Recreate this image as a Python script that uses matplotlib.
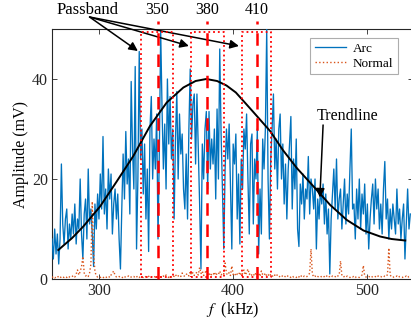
import numpy as np
import matplotlib
matplotlib.use("Agg")
import matplotlib.pyplot as plt

# ---------------- data ----------------
freq = np.arange(265, 533, 1.0)  # kHz sample grid

arc = [
    8, 4, 10, 5, 9, 3, 8, 23, 11, 7,
    12, 14, 6, 11, 8, 13, 9, 15, 7, 12,
    10, 20, 9, 4, 13, 16, 8, 22, 11, 14,
    9, 2.5, 15, 10, 17, 12, 21, 14, 28.5, 13,
    18, 10, 22, 16, 21, 9, 15, 18, 12, 17,
    8, 2, 14, 25, 16, 29.5, 19, 24, 13, 39.5,
    26, 18, 42.5, 6, 20, 45.5, 24, 30, 17, 27,
    12, 22, 5.5, 30, 36.5, 20, 28, 22, 33, 8,
    26, 49.5, 34, 22, 31, 18, 40, 27, 36.5, 24,
    30, 12, 28, 37.5, 20, 33, 25, 29, 18, 14,
    25, 12, 30, 42, 28, 35, 37, 23, 37, 26,
    15, 2, 27, 20, 30, 33.5, 18, 33.5, 22, 28,
    23, 30, 16, 34, 20, 46, 29, 18, 6, 22,
    30, 24, 31, 18, 6, 27, 23, 29, 12, 21,
    7, 24, 18, 30, 26, 33, 20, 9, 27, 29,
    11, 24, 20, 30, 5, 18, 9, 28, 22, 30,
    50, 20, 8, 24, 30, 37, 22, 28, 18, 30,
    33, 20, 27, 15, 23, 12, 22, 27, 32.5, 14,
    24, 18, 28, 10, 6.5, 19, 15, 21, 12, 18,
    16, 24.5, 13, 20, 18, 14, 20, 6, 16, 12,
    18, 15, 19, 11, 17, 9, 14, 1, 12, 17,
    22, 14, 24, 12, 16, 18, 10, 15, 20, 11,
    17, 13, 22, 30, 14, 15, 8, 18, 12, 20,
    10, 17, 13, 19, 9, 15, 6, 12, 16, 19,
    11, 20, 14, 18, 10, 15, 9, 18, 23.5, 12,
    16, 8, 14, 10, 15, 12, 9, 18, 11, 14,
    8, 12, 15, 4, 11, 18, 10, 13,
]

normal = [
    0.3, 0.5, 0.2, 0.4, 0.6, 0.3, 0.5, 0.2, 0.4, 0.3,
    0.5, 0.3, 0.6, 0.4, 0.3, 0.5, 0.7, 0.4, 1.0, 1.8,
    0.8, 1.5, 2.5, 4.5, 1.2, 0.6, 0.8, 0.5, 1.2, 3.0,
    15.5, 5.0, 1.5, 0.6, 0.4, 0.5, 0.3, 0.4, 0.2, 0.5,
    0.3, 0.4, 0.6, 0.3, 0.8, 1.2, 1.6, 0.7, 0.4, 0.3,
    0.5, 0.3, 0.4, 0.2, 0.5, 0.3, 0.4, 0.6, 0.3, 0.4,
    0.3, 0.5, 0.2, 0.4, 0.6, 0.3, 0.5, 0.4, 0.3, 0.6,
    0.4, 0.3, 0.5, 0.7, 0.4, 0.3, 0.5, 0.4, 0.6, 0.3,
    0.5, 0.4, 0.3, 0.6, 0.4, 0.8, 0.5, 0.3, 0.6, 0.4,
    0.7, 0.5, 0.9, 0.4, 0.6, 0.8, 0.5, 1.2, 0.7, 0.5,
    0.9, 1.1, 0.6, 1.5, 0.8, 1.3, 0.7, 1.0, 1.4, 0.8,
    2.3, 1.1, 1.6, 0.7, 1.2, 1.8, 0.9, 1.3, 0.6, 1.0,
    0.8, 1.4, 0.7, 1.1, 0.9, 1.6, 0.8, 1.2, 1.0, 3.2,
    1.1, 0.8, 1.3, 0.7, 2.6, 0.9, 1.2, 0.6, 1.0, 0.8,
    1.4, 0.7, 1.1, 1.8, 0.8, 1.3, 2.0, 0.9, 1.2, 0.7,
    1.0, 0.6, 1.3, 0.8, 1.1, 0.5, 1.6, 0.9, 0.7, 1.2,
    0.6, 0.9, 0.5, 1.0, 0.7, 0.4, 0.8, 0.5, 0.9, 0.6,
    0.4, 0.7, 0.5, 0.3, 0.6, 0.4, 0.7, 0.5, 0.3, 0.6,
    0.4, 0.5, 0.3, 0.6, 0.4, 0.8, 0.5, 0.3, 0.6, 0.4,
    0.5, 0.7, 1.2, 6.0, 1.0, 0.4, 0.6, 0.3, 0.5, 0.4,
    0.3, 0.6, 0.4, 0.5, 0.3, 0.7, 0.4, 0.5, 0.3, 0.6,
    0.4, 0.5, 0.3, 0.6, 0.8, 3.6, 0.7, 0.4, 0.5, 0.3,
    0.6, 0.4, 0.3, 0.5, 0.4, 0.6, 0.3, 0.5, 0.4, 0.3,
    0.5, 0.8, 2.7, 0.6, 0.4, 0.3, 0.5, 0.4, 0.6, 0.3,
    0.4, 0.5, 0.3, 0.6, 0.4, 0.5, 0.3, 0.4, 0.6, 0.5,
    0.9, 6.2, 0.8, 0.4, 0.3, 0.5, 0.4, 0.6, 0.3, 0.5,
    0.4, 0.3, 0.5, 0.4, 0.6, 0.3, 0.5, 0.4,
]

trend_f = [269.7, 280, 288.3, 300.8, 313.2, 325.6, 338, 350.5, 362.9, 372, 380,
           388, 395, 402, 414, 427.5, 437, 447.4, 459.9, 472.3, 484.7, 497.1,
           509.5, 518, 528.2]
trend_y = [5.8, 8.2, 10.5, 14.5, 19.5, 24.6, 30.6, 35.3, 38.3, 39.6, 40,
           39.6, 38.7, 37.3, 33.7, 29.6, 25.8, 22.2, 18.5, 14.8, 11.8, 9.7,
           8.5, 8.0, 7.7]

passband_centers = [343.7, 380.7, 417.5]
passband_labels = ["350", "380", "410"]
box_lo = [331.3, 368.5, 406.5]
box_hi = [355.1, 393.1, 428.1]

xticks = [300, 400, 500]
yticks = [0, 20, 40]

# ---------------- figure ----------------
plt.rcParams['font.family'] = ['Liberation Serif', 'DejaVu Serif']
plt.rcParams['mathtext.fontset'] = 'stix'

fig = plt.figure(figsize=(4.11, 3.24), dpi=100)
ax = fig.add_axes([52 / 411, 1 - 279 / 324, 361 / 411, 250 / 324])

blue = '#0072BD'
orange = '#D95319'

ax.plot(freq, arc, color=blue, lw=0.95, label='Arc', zorder=3)
ax.plot(freq, normal, color=orange, lw=1.0, ls=':', label='Normal', zorder=4)
ax.plot(trend_f, trend_y, color='black', lw=1.4, zorder=5)

# passband boxes
for lo, hi in zip(box_lo, box_hi):
    ax.plot([lo, hi, hi, lo, lo], [0.4, 0.4, 49.4, 49.4, 0.4],
            color='red', ls=':', lw=1.3, zorder=6)

# dashed center lines + labels above the axes
for c, lab in zip(passband_centers, passband_labels):
    ax.plot([c, c], [0, 51.6], color='red', ls=(0, (5, 3.5)), lw=1.8,
            clip_on=False, zorder=7)
    ax.text(c, 53.9, lab, ha='center', va='center', fontsize=11.5,
            clip_on=False)

# Passband annotation
ax.text(291.5, 53.9, 'Passband', ha='center', va='center', fontsize=12)
arrow_tips = [(329, 45.6), (367, 46.6), (404.3, 46.6)]
for tip in arrow_tips:
    ax.annotate('', xy=tip, xytext=(293, 52.4), annotation_clip=False,
                arrowprops=dict(arrowstyle='-|>', color='black', lw=1.1,
                                mutation_scale=13, shrinkA=0, shrinkB=0))

# Trendline annotation
ax.text(485.5, 32.6, 'Trendline', ha='center', va='center', fontsize=11.5)
ax.annotate('', xy=(464.6, 16.3), xytext=(467, 30.8),
            arrowprops=dict(arrowstyle='-|>', color='black', lw=1.1,
                            mutation_scale=13, shrinkA=0, shrinkB=0))

ax.set_xlim(265, 534)
ax.set_ylim(0, 50)
ax.set_xticks(xticks)
ax.set_yticks(yticks)
ax.tick_params(direction='in', length=3.5, width=0.6, labelsize=11.5,
               top=True, right=True, pad=3, colors='#262626')
for s in ax.spines.values():
    s.set_linewidth(0.8)
    s.set_color('#262626')

ax.set_ylabel('Amplitude (mV)', fontsize=11.5, labelpad=2)
ax.set_xlabel(r'$f$  (kHz)', fontsize=11.5, labelpad=1)

leg = ax.legend(loc='upper right', bbox_to_anchor=(398 / 411, 1 - 38 / 324),
                bbox_transform=fig.transFigure, fontsize=9.5, frameon=True,
                fancybox=False, edgecolor='#999999', handlelength=2.4,
                borderpad=0.35, labelspacing=0.2, handletextpad=0.5,
                borderaxespad=0)
leg.get_frame().set_linewidth(0.8)
leg.set_zorder(10)

fig.savefig('out.png', dpi=100)
